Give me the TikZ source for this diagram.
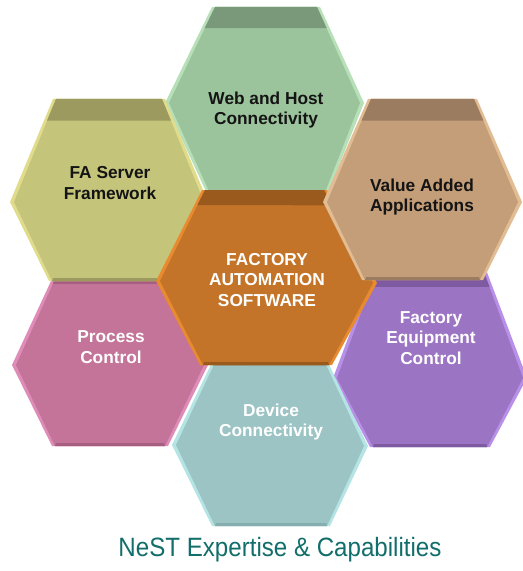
\documentclass[tikz,border=0pt]{standalone}
\usepackage{fontspec}
\setmainfont{Liberation Sans}
\usetikzlibrary{calc}
\definecolor{gmain}{HTML}{9CC49C}\definecolor{gdark}{HTML}{7A987A}\definecolor{glight}{HTML}{B8E0B8}
\definecolor{ymain}{HTML}{C4C47A}\definecolor{ydark}{HTML}{9C9A5E}\definecolor{ylight}{HTML}{E0DC8C}
\definecolor{tmain}{HTML}{C49E78}\definecolor{tdark}{HTML}{9C7C60}\definecolor{tlight}{HTML}{E2BC92}
\definecolor{omain}{HTML}{C47428}\definecolor{odark}{HTML}{9A5A1E}\definecolor{olight}{HTML}{E88A30}
\definecolor{pmain}{HTML}{C47498}\definecolor{pdark}{HTML}{A85E80}\definecolor{plight}{HTML}{E08CB8}
\definecolor{vmain}{HTML}{9C74C4}\definecolor{vdark}{HTML}{7E5AA0}\definecolor{vlight}{HTML}{B890E8}
\definecolor{cmain}{HTML}{9CC4C4}\definecolor{cdark}{HTML}{86AEAE}\definecolor{clight}{HTML}{B4E4E4}
\definecolor{titlecol}{HTML}{116E6A}
\newcommand\HexCell[8]{%
  \coordinate (tl) at #1; \coordinate (tr) at #2; \coordinate (rr) at #3;
  \coordinate (br) at #4; \coordinate (bl) at #5; \coordinate (ll) at #6;
  \fill[#7light] (tl)--(tr)--(rr)--(br)--(bl)--(ll)--cycle;
  \fill[#7main] ($(tl)+(3,0)$)--($(tr)+(-3,0)$)--($(rr)+(-4,0)$)--($(br)+(-3,0)$)--($(bl)+(3,0)$)--($(ll)+(4,0)$)--cycle;
  \fill[#7dark] ($(bl)+(3,0)$)--($(br)+(-3,0)$)--($(br)+(-4,-3)$)--($(bl)+(4,-3)$)--cycle;
  \fill[#7dark] ($(tl)+(3,0)$)--($(tr)+(-3,0)$)--($(tr)!#8!(rr)+(-3,0)$)--($(tl)!#8!(ll)+(3,0)$)--cycle;
}
\tikzset{
  darklabel/.style={align=center,text=black!92,font=\fontsize{17.3bp}{20.7bp}\selectfont\bfseries},
  lightlabel/.style={darklabel,text=white},
}
\begin{document}
\begin{tikzpicture}[x=1bp,y=-1bp]
\useasboundingbox (0,0) rectangle (523,571);
\clip (0,0) rectangle (523,571);
\fill[white] (0,0) rectangle (523,571);
% Web and Host
\HexCell{(212,7)}{(320,7)}{(364,103)}{(325,200)}{(210,200)}{(165,103)}{g}{0.22}
% Process Control
\HexCell{(58,266)}{(162,266)}{(208,365)}{(168,446)}{(52,446)}{(12,365)}{p}{0.18}
% FA Server
\HexCell{(53,99)}{(165,99)}{(208,202)}{(169,281)}{(49,281)}{(10,202)}{y}{0.21}
% Factory Equipment
\HexCell{(375,267)}{(485,267)}{(527,378)}{(490,447)}{(370,447)}{(333,378)}{v}{0.18}
% Device Connectivity
\HexCell{(217,352)}{(323,352)}{(368,446)}{(330,526)}{(212,526)}{(172,445)}{c}{0.15}
% Center
\HexCell{(202,190)}{(327,190)}{(377,283)}{(332,365)}{(200,365)}{(156,281)}{o}{0.165}
% Value Added
\HexCell{(368,99)}{(477,99)}{(522,202)}{(483,280)}{(362,280)}{(323,202)}{t}{0.21}
% labels
\node[darklabel] (web) at (266,110) {Web and Host\\Connectivity};
\node[darklabel] (fa) at (110,183) {FA Server\\Framework};
\node[darklabel] (va) at (422,197) {Value Added\\Applications};
\node[lightlabel] (fas) at (267,280) {FACTORY\\AUTOMATION\\SOFTWARE};
\node[lightlabel] (pc) at (111,347) {Process\\Control};
\node[lightlabel] (fec) at (431,338) {Factory\\Equipment\\Control};
\node[lightlabel] (dc) at (271,422) {Device\\Connectivity};
\node[text=titlecol,font=\fontsize{26.5bp}{30bp}\selectfont,inner sep=0pt] (title) at (280,550) {\scalebox{0.91}[1]{NeST Expertise \& Capabilities}};
\end{tikzpicture}
\end{document}
